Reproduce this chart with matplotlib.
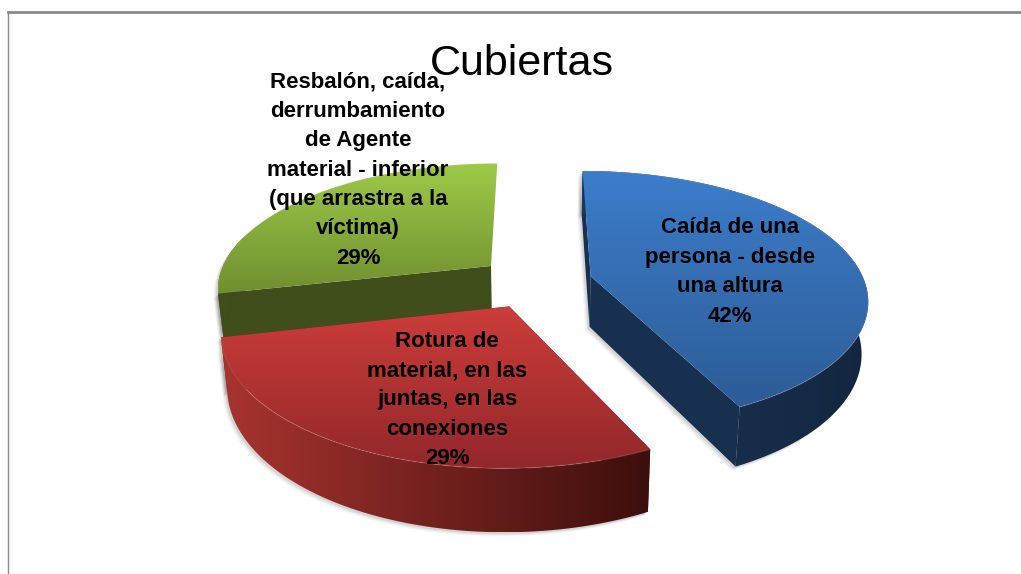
import numpy as np
import matplotlib
matplotlib.use("Agg")
import matplotlib.pyplot as plt
from matplotlib.patches import Polygon

titulo = "Cubiertas"
# share of each slice as measured on the picture (printed labels are truncated)
valores = [42.86, 28.57, 28.57]
etiquetas = [
    "Caída de una\npersona - desde\nuna altura\n42%",
    "Rotura de\nmaterial, en las\njuntas, en las\nconexiones\n29%",
    "Resbalón, caída,\nderrumbamiento\nde Agente\nmaterial - inferior\n(que arrastra a la\nvíctima)\n29%",
]
colores_arriba = [("#3C7DCB", "#2D5C96"), ("#CC3D3A", "#93272A"), ("#9DCA48", "#708F30")]
colores_pared = [("#1B3759", "#13263F"), ("#A8332F", "#3C0F0C"), ("#414F1C", "#3E4B1B")]
colores_corte = ["#17304F", "#5A1A18", "#404E1C"]
pos_etiquetas = [(730, 272), (447, 400), (358, 170)]

# projection of the pie plane onto the picture, in pixels
VX, VY = 535, 282
RX, RY = 274, 125
K = 0.17
EXPLOSION = 0.21
PROF = 51
ENCOGE = 0.98


def proyecta(x, y, abajo=False):
    s = 1 / (1 + K * y)
    sx = VX + RX * x * s
    sy = VY - RY * y * s
    if abajo:
        sx = VX + (sx - VX) * ENCOGE
        sy = sy + PROF * s
    return np.column_stack([sx, sy])


def degradado(ax, verts, c1, c2, vertical=True, zorder=2):
    a = np.array(matplotlib.colors.to_rgb(c1))
    b = np.array(matplotlib.colors.to_rgb(c2))
    t = np.linspace(0, 1, 128)[:, None]
    img = (a * (1 - t) + b * t)[:, None, :] if vertical else (a * (1 - t) + b * t)[None, :, :]
    x0, y0 = verts.min(axis=0)
    x1, y1 = verts.max(axis=0)
    im = ax.imshow(img, extent=(x0, x1, y1, y0), aspect="auto", zorder=zorder, interpolation="bilinear")
    p = Polygon(verts, closed=True, transform=ax.transData, facecolor="none", edgecolor="none")
    ax.add_patch(p)
    im.set_clip_path(p)


fig = plt.figure(figsize=(10.21, 5.74), dpi=100)
ax = fig.add_axes([0, 0, 1, 1])
ax.axis("off")

angulos = np.concatenate([[0], np.cumsum(valores)]) / np.sum(valores) * 2 * np.pi
caras = []
for i in range(len(valores)):
    a0, a1 = angulos[i], angulos[i + 1]
    medio = (a0 + a1) / 2
    ox, oy = EXPLOSION * np.sin(medio), EXPLOSION * np.cos(medio)
    th = np.linspace(a0, a1, 120)
    ax_x, ax_y = ox + np.sin(th), oy + np.cos(th)
    arco = proyecta(ax_x, ax_y)
    arco_b = proyecta(ax_x, ax_y, abajo=True)
    c = proyecta(np.array([ox]), np.array([oy]))
    c_b = proyecta(np.array([ox]), np.array([oy]), abajo=True)
    caras.append((arco, arco_b, c, c_b, th))

orden = [2, 1, 0]
z = 2
for i in orden:
    arco, arco_b, c, c_b, th = caras[i]
    # the outer wall only shows on the near side of the green slice
    visible = th <= np.radians(285) if i == 2 else np.ones(len(th), dtype=bool)
    pared = np.vstack([arco[visible], arco_b[visible][::-1]])
    arriba = np.vstack([c, arco])
    corte1 = np.vstack([c, arco[:1], arco_b[:1], c_b])
    corte2 = np.vstack([c, arco[-1:], arco_b[-1:], c_b])
    # the back cut of the green slice faces away from the viewer
    cortes = [corte1] if i == 2 else [corte1, corte2]
    # soft shadow round the solid
    for d, al in [(7, 0.04), (5, 0.06), (3, 0.08)]:
        for poli in [pared] + cortes:
            ax.add_patch(Polygon(poli + [-d * 0.6, d * 0.6], closed=True, facecolor="black",
                                 edgecolor="none", alpha=al, zorder=z))
    z += 1
    for poli in cortes:
        ax.add_patch(Polygon(poli, closed=True, facecolor=colores_corte[i], edgecolor="none", zorder=z))
    z += 1
    degradado(ax, pared, colores_pared[i][0], colores_pared[i][1], vertical=False, zorder=z)
    z += 1
    degradado(ax, arriba, colores_arriba[i][0], colores_arriba[i][1], zorder=z)
    z += 1
    # light rim on the top edge
    ax.plot(arco[:, 0], arco[:, 1], color="white", alpha=0.1, lw=1, zorder=z)
    z += 1

# frame of the pasted chart
ax.plot([8, 8], [12, 574], color="#8A8A8A", lw=1, zorder=1)
ax.plot([8, 1021], [12, 12], color="#8A8A8A", lw=2, zorder=1)

for (x, y), txt in zip(pos_etiquetas, etiquetas):
    ax.text(x, y, txt, ha="center", va="center", family="Liberation Sans", fontweight="bold",
            fontsize=16, color="black", linespacing=1.53, zorder=100)
ax.text(522, 64, titulo, ha="center", va="center", family="Liberation Sans", fontsize=31,
        color="black", zorder=100)

ax.set_xlim(0, 1021)
ax.set_ylim(574, 0)
fig.savefig("out.png", dpi=100, facecolor="white")
